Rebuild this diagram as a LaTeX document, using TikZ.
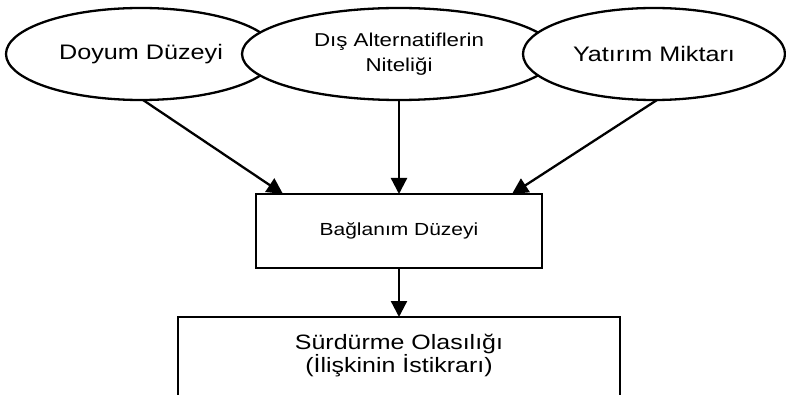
\documentclass[tikz,border=0pt]{standalone}
\usepackage{fontspec}
\setmainfont{Liberation Sans}[FakeStretch=1.2]
\usetikzlibrary{shapes.geometric,arrows.meta,calc}
\tikzset{
  oval/.style={ellipse, draw, line width=2.3pt, fill=white, inner sep=0pt, outer sep=0pt, align=center},
  boxnode/.style={rectangle, draw, line width=2.3pt, fill=white, inner sep=0pt, outer sep=0pt, align=center},
  arr/.style={line width=2.3pt, -{Triangle[length=16pt,width=16pt]}},
  bigtext/.style={font=\fontsize{21}{25}\selectfont},
  midtext/.style={font=\fontsize{18.6}{25}\selectfont},
}
\begin{document}
\begin{tikzpicture}[x=1pt,y=-1pt]
\useasboundingbox (0,0) rectangle (786,395);
\clip (0,0) rectangle (786,395);
\node[oval, bigtext, minimum width=270pt, minimum height=92pt] (doyum) at (141,54) {Doyum Düzeyi};
\node[oval, midtext, minimum width=314pt, minimum height=92pt] (dis) at (399,54) {Dış Alternatiflerin\\Niteliği};
\node[oval, bigtext, minimum width=262pt, minimum height=92pt] (yatirim) at (654,54) {Yatırım Miktarı};
\node[boxnode, font=\fontsize{17.5}{21}\selectfont, minimum width=286pt, minimum height=74pt] (bag) at (399,231) {Bağlanım Düzeyi};
\node[boxnode, minimum width=442pt, minimum height=120pt, anchor=north] (sur) at (399,317) {};
\node[align=center, font=\fontsize{20.8}{23}\selectfont, inner sep=0pt] (surtext) at ($(sur.north)+(0,39)$) {Sürdürme Olasılığı\\(İlişkinin İstikrarı)};
\draw[arr] ([xshift=2pt]doyum.south) -- ([xshift=27pt]bag.north west);
\draw[arr] (dis.south) -- (bag.north);
\draw[arr] ([xshift=3pt]yatirim.south) -- ([xshift=-30pt]bag.north east);
\draw[arr] (bag.south) -- (sur.north);
\end{tikzpicture}
\end{document}
